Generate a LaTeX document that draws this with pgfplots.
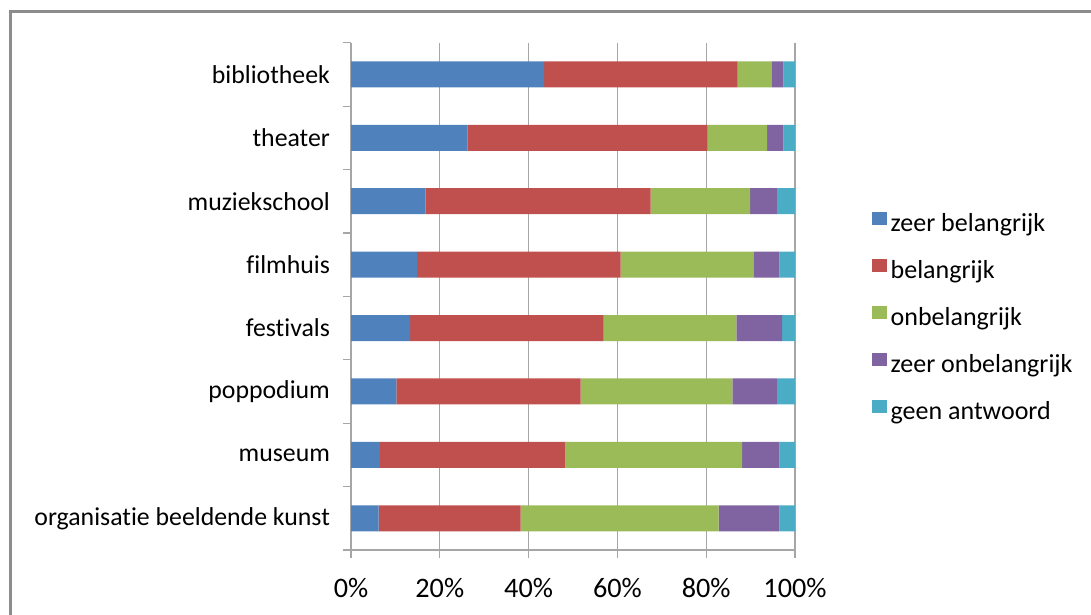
\documentclass[border=0pt]{standalone}
\usepackage{pgfplots}
\pgfplotsset{compat=1.18}
\usepackage{pgfplotstable}
\usepackage{fontspec}
\setmainfont{Carlito}[Ligatures=NoCommon]

\definecolor{c1}{HTML}{4F81BD}
\definecolor{c2}{HTML}{C0504D}
\definecolor{c3}{HTML}{9BBB59}
\definecolor{c4}{HTML}{8064A2}
\definecolor{c5}{HTML}{4BACC6}
\definecolor{gridgray}{HTML}{A6A6A6}
\definecolor{framegray}{HTML}{8C8C8C}

% percentages per item, bottom (0) to top (7)
\pgfplotstableread{
y  zb    b     ob    zob   ga
0  6.2   32.0  44.6  13.7  3.5
1  6.5   41.8  39.8  8.4   3.5
2  10.2  41.5  34.2  10.0  4.1
3  13.3  43.6  29.9  10.3  2.9
4  14.9  45.8  29.9  5.9   3.5
5  16.8  50.7  22.4  6.0   4.1
6  26.2  54.1  13.4  3.7   2.6
7  43.5  43.6  7.6   2.7   2.6
}\data

\begin{document}
\begin{tikzpicture}
\draw[framegray, line width=1.5pt] (5.25pt,-2pt) -- (5.25pt,301.5pt) -- (548pt,301.5pt);
\begin{axis}[
  at={(175.5pt,32.5pt)}, anchor=south west,
  scale only axis, width=222pt, height=253.65pt,
  xbar stacked, bar width=13pt,
  xmin=0, xmax=100, ymin=-0.5, ymax=7.5,
  axis x line*=bottom, axis y line*=left,
  axis line style={gridgray, line width=0.6pt},
  tick align=outside, major tick length=4pt,
  tick style={gridgray, line width=0.6pt},
  xmajorgrids, grid style={gridgray, line width=0.6pt},
  xtick={0,20,...,100},
  xticklabels={0\%,20\%,40\%,60\%,80\%,100\%},
  xticklabel style={font=\fontsize{14.1}{17}\selectfont, yshift=-6.5pt},
  ytick={0,...,7},
  y tick style={draw=none},
  yticklabels={organisatie beeldende kunst,museum,poppodium,festivals,filmhuis,muziekschool,theater,bibliotheek},
  yticklabel style={font=\fontsize{12.9}{15}\selectfont, anchor=east, xshift=-3pt},
  extra y ticks={-0.5,0.5,...,7.5},
  extra y tick labels={},
  extra y tick style={y tick style={draw=gridgray}, grid=none},
  legend cell align=left,
  legend style={draw=none, fill=none, inner sep=0pt,
    at={(rel axis cs:1.1718,0.6676)}, anchor=north west,
    row sep=10.8pt,
    font=\fontsize{13}{15}\selectfont,
    nodes={inner sep=0pt, text height=9.5pt, text depth=3pt, inner xsep=2pt}},
  legend image code/.code={\fill[#1] (0pt,0pt) rectangle (7.5pt,6.5pt);},
]
\addplot[fill=c1, draw=none] table[x=zb, y=y] {\data};
\addplot[fill=c2, draw=none] table[x=b, y=y] {\data};
\addplot[fill=c3, draw=none] table[x=ob, y=y] {\data};
\addplot[fill=c4, draw=none] table[x=zob, y=y] {\data};
\addplot[fill=c5, draw=none] table[x=ga, y=y] {\data};
\legend{zeer belangrijk,belangrijk,onbelangrijk,zeer onbelangrijk,geen antwoord}
\end{axis}
\pgfresetboundingbox
\useasboundingbox (0,0) rectangle (545.5pt,307.5pt);
\end{tikzpicture}
\end{document}
